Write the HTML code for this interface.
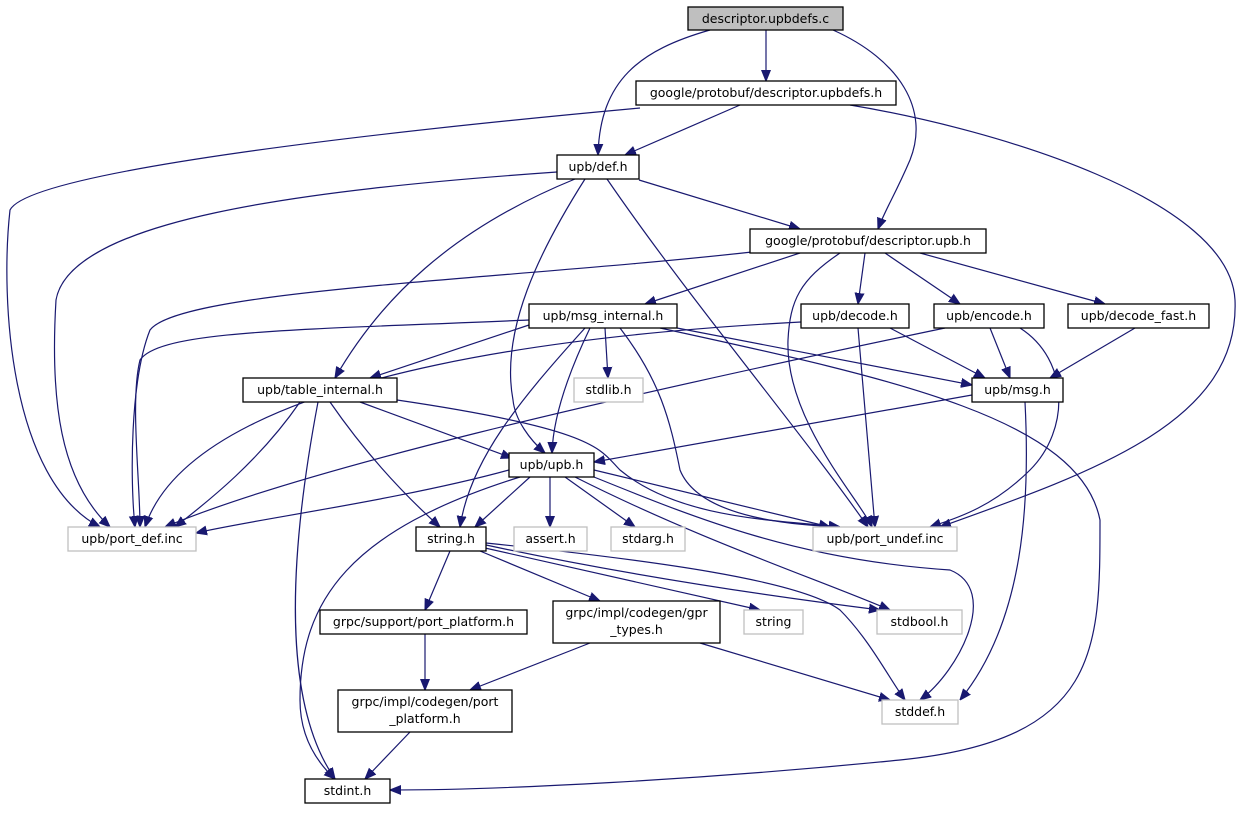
<!DOCTYPE html>
<html><head><meta charset="utf-8"><style>
html,body{margin:0;padding:0;background:#fff;}
svg{display:block}
text{font-family:"DejaVu Sans","Liberation Sans",sans-serif;font-size:12.5px;fill:#000;text-anchor:middle}
.n{fill:#fff;stroke:#000;stroke-width:1.3}
.g{fill:#fff;stroke:#bfbfbf;stroke-width:1.3}
.e{fill:none;stroke:#191970;stroke-width:1.2}
</style></head><body>
<svg width="1241" height="813" viewBox="0 0 1241 813" xmlns="http://www.w3.org/2000/svg">
<defs><marker id="a" viewBox="0 0 10 10" refX="10" refY="5" markerWidth="11" markerHeight="11" markerUnits="userSpaceOnUse" orient="auto"><path d="M0,1 L10,5 L0,9 z" fill="#191970" stroke="#191970"/></marker></defs>
<g marker-end="url(#a)">
<path class="e" d="M766,30 L766,81"/>
<path class="e" d="M710,30 C640,50 600,80 598,155"/>
<path class="e" d="M833,30 C900,60 930,110 910,160 C895,195 885,210 878,229"/>
<path class="e" d="M740,105 L625,155"/>
<path class="e" d="M640,108 C400,130 30,170 10,210 C0,300 10,480 100,527"/>
<path class="e" d="M850,105 C1000,130 1230,200 1235,300 C1240,420 1100,470 940,527"/>
<path class="e" d="M639,180 L800,229"/>
<path class="e" d="M557,172 C300,190 70,220 56,300 C50,400 60,480 110,527"/>
<path class="e" d="M575,179 C450,230 380,300 335,378"/>
<path class="e" d="M585,179 C540,250 500,330 513,400 C515,420 530,440 545,453"/>
<path class="e" d="M607,179 C690,300 800,430 868,527"/>
<path class="e" d="M752,252 C500,280 180,290 150,330 C130,380 130,480 135,527"/>
<path class="e" d="M800,253 L645,304"/>
<path class="e" d="M865,253 L858,304"/>
<path class="e" d="M885,253 L960,304"/>
<path class="e" d="M920,253 L1105,304"/>
<path class="e" d="M840,253 C800,280 790,300 788,340 C785,420 860,500 872,527"/>
<path class="e" d="M529,320 C300,330 160,330 140,360 C130,400 140,480 140,527"/>
<path class="e" d="M529,325 L370,378"/>
<path class="e" d="M605,328 L608,378"/>
<path class="e" d="M590,328 C565,380 553,420 552,453"/>
<path class="e" d="M585,328 C520,400 470,460 460,527"/>
<path class="e" d="M677,328 L972,385"/>
<path class="e" d="M620,328 C660,380 670,420 680,470 C700,520 800,525 840,527"/>
<path class="e" d="M660,328 C900,380 1080,420 1100,520 C1100,650 1100,740 900,760 C700,780 500,790 390,790"/>
<path class="e" d="M801,322 C650,330 200,360 145,527"/>
<path class="e" d="M890,328 L985,378"/>
<path class="e" d="M858,328 L875,527"/>
<path class="e" d="M945,328 C600,400 300,470 165,527"/>
<path class="e" d="M990,328 L1010,378"/>
<path class="e" d="M1020,328 C1070,360 1070,430 1030,470 C990,510 950,520 930,527"/>
<path class="e" d="M1135,328 L1050,378"/>
<path class="e" d="M300,402 C260,460 210,500 175,527"/>
<path class="e" d="M360,402 L512,458"/>
<path class="e" d="M397,400 C600,430 600,450 620,470 C680,520 780,520 840,527"/>
<path class="e" d="M330,402 C370,460 410,500 440,527"/>
<path class="e" d="M318,402 C290,550 280,700 335,779"/>
<path class="e" d="M972,395 L594,462"/>
<path class="e" d="M1025,402 C1030,500 1025,620 960,700"/>
<path class="e" d="M509,470 C400,500 250,520 196,533"/>
<path class="e" d="M530,477 L475,527"/>
<path class="e" d="M550,477 L550,527"/>
<path class="e" d="M565,477 L635,527"/>
<path class="e" d="M594,470 L830,527"/>
<path class="e" d="M575,477 C700,540 820,580 890,610"/>
<path class="e" d="M594,477 C700,520 800,560 950,570 C1000,590 960,670 920,700"/>
<path class="e" d="M520,477 C350,530 300,600 300,700 C300,740 320,765 335,779"/>
<path class="e" d="M450,551 L425,610"/>
<path class="e" d="M480,551 L600,601"/>
<path class="e" d="M485,548 L760,610"/>
<path class="e" d="M486,545 C650,580 800,600 880,610"/>
<path class="e" d="M486,543 C650,560 800,580 840,610 C870,640 890,680 905,700"/>
<path class="e" d="M425,634 L425,690"/>
<path class="e" d="M590,643 L470,690"/>
<path class="e" d="M700,643 L890,700"/>
<path class="e" d="M410,732 L365,779"/>
</g>
<rect x="688" y="7" width="155" height="23" fill="#bfbfbf" stroke="#000" stroke-width="1.3"/><text x="765.5" y="23">descriptor.upbdefs.c</text>
<rect class="n" x="636" y="81" width="260" height="24"/><text x="766" y="97">google/protobuf/descriptor.upbdefs.h</text>
<rect class="n" x="557" y="155" width="82" height="24"/><text x="598" y="171">upb/def.h</text>
<rect class="n" x="750" y="229" width="236" height="24"/><text x="868" y="245">google/protobuf/descriptor.upb.h</text>
<rect class="n" x="529" y="304" width="148" height="24"/><text x="603" y="320">upb/msg_internal.h</text>
<rect class="n" x="801" y="304" width="108" height="24"/><text x="855" y="320">upb/decode.h</text>
<rect class="n" x="934" y="304" width="110" height="24"/><text x="989" y="320">upb/encode.h</text>
<rect class="n" x="1068" y="304" width="141" height="24"/><text x="1138.5" y="320">upb/decode_fast.h</text>
<rect class="g" x="574" y="378" width="69" height="24"/><text x="608.5" y="394">stdlib.h</text>
<rect class="n" x="243" y="378" width="154" height="24"/><text x="320" y="394">upb/table_internal.h</text>
<rect class="n" x="972" y="378" width="91" height="24"/><text x="1017.5" y="394">upb/msg.h</text>
<rect class="n" x="509" y="453" width="85" height="24"/><text x="551.5" y="469">upb/upb.h</text>
<rect class="g" x="68" y="527" width="128" height="24"/><text x="132" y="543">upb/port_def.inc</text>
<rect class="n" x="416" y="527" width="70" height="24"/><text x="451" y="543">string.h</text>
<rect class="g" x="514" y="527" width="73" height="24"/><text x="550.5" y="543">assert.h</text>
<rect class="g" x="611" y="527" width="74" height="24"/><text x="648" y="543">stdarg.h</text>
<rect class="g" x="813" y="527" width="144" height="24"/><text x="885" y="543">upb/port_undef.inc</text>
<rect class="n" x="320" y="610" width="207" height="24"/><text x="423.5" y="626">grpc/support/port_platform.h</text>
<rect class="n" x="553" y="601" width="167" height="42"/><text x="636.5" y="617">grpc/impl/codegen/gpr</text><text x="636.5" y="634">_types.h</text>
<rect class="g" x="744" y="610" width="59" height="24"/><text x="773.5" y="626">string</text>
<rect class="g" x="877" y="610" width="85" height="24"/><text x="919.5" y="626">stdbool.h</text>
<rect class="n" x="338" y="690" width="174" height="42"/><text x="425" y="706">grpc/impl/codegen/port</text><text x="425" y="723">_platform.h</text>
<rect class="g" x="882" y="700" width="76" height="24"/><text x="920" y="716">stddef.h</text>
<rect class="n" x="305" y="779" width="85" height="24"/><text x="347.5" y="795">stdint.h</text>
</svg>
</body></html>
